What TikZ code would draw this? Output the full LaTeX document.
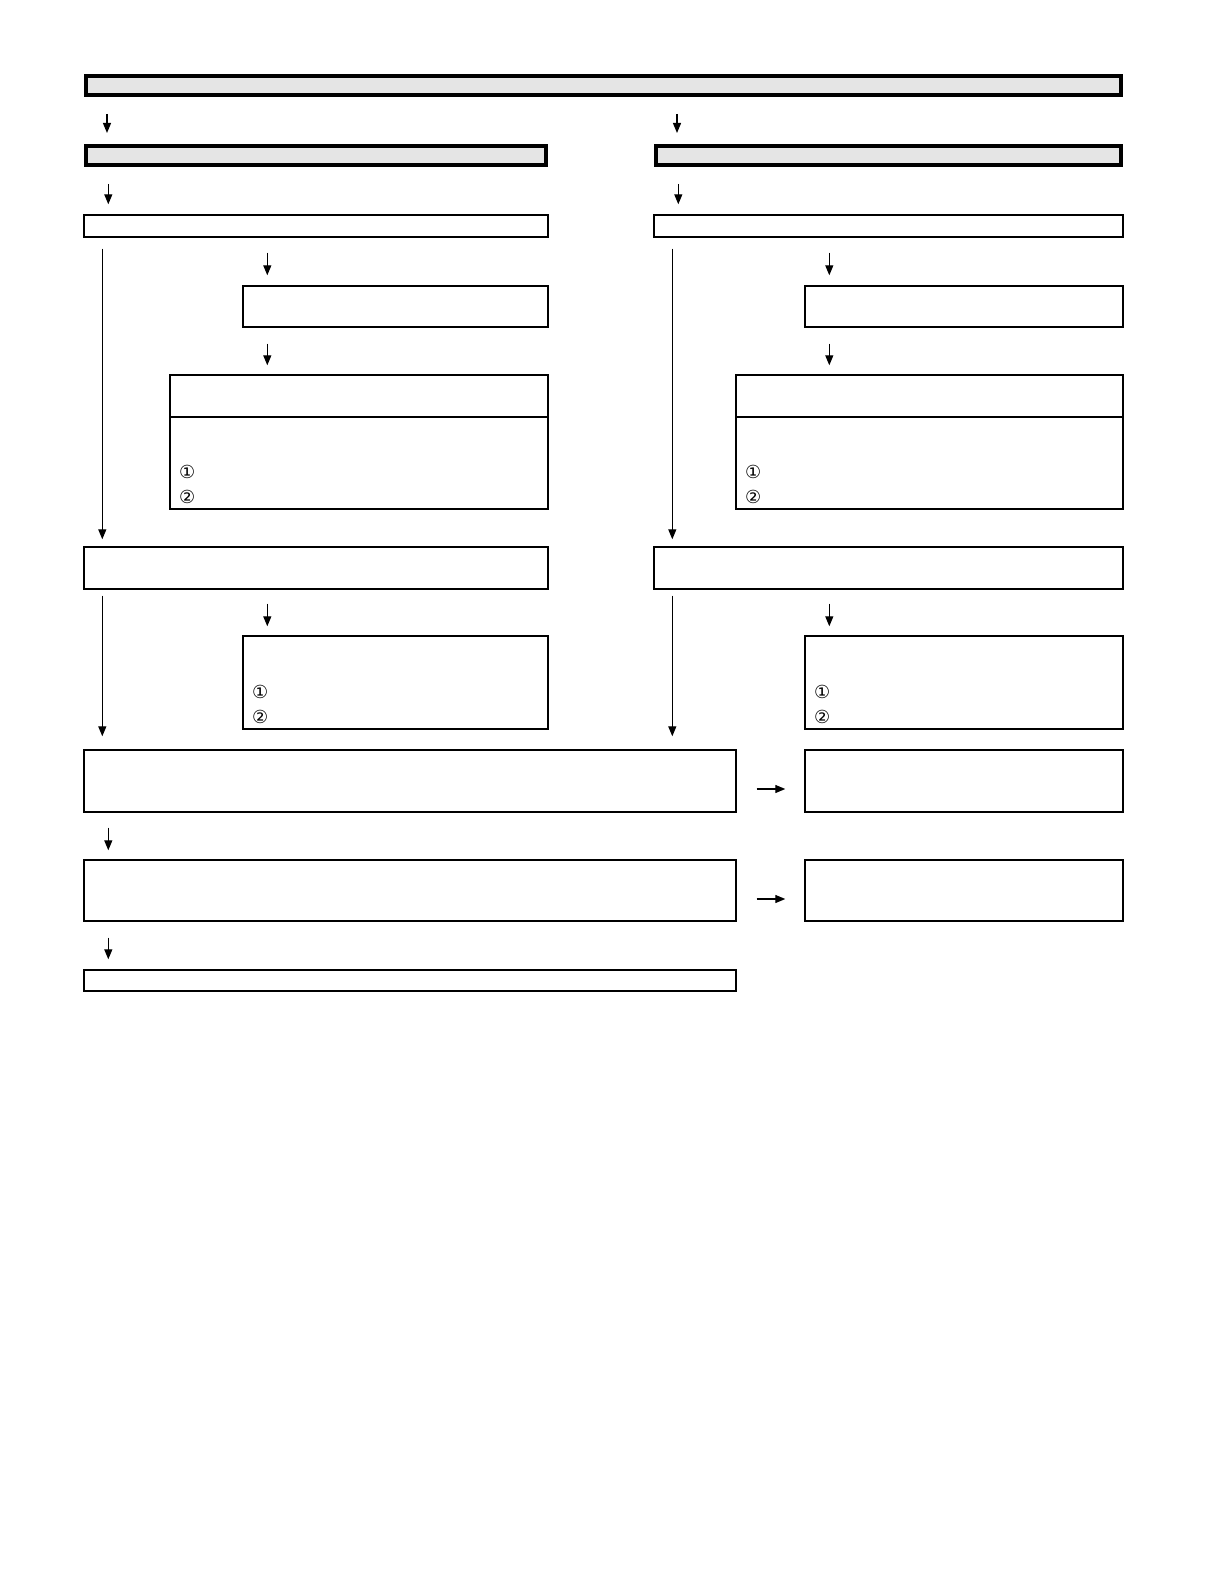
\documentclass[tikz,border=0pt]{standalone}
\usepackage{fontspec}
\newfontfamily\symfont{DejaVu Sans}
\usetikzlibrary{arrows.meta}
\usetikzlibrary{calc}
\usetikzlibrary{fit}
\tikzset{head/.style = {draw, line width = 2pt, fill = gray!20, inner sep = 0}}
\tikzset{box/.style = {draw, line width = 0.7pt, inner sep = 0}}
\tikzset{arr/.style = {line width = 0.6pt, -{Triangle[length = 5pt, width = 4pt]}}}
\tikzset{num/.style = {font = \symfont\fontsize{9}{9}\selectfont, inner sep = 0}}

\begin{document}
\begin{tikzpicture}[x=0.5pt, y=-0.5pt]
          \useasboundingbox (0, 0) rectangle (1220, 1588);

          \node [head, fit = {(86, 76) (1121, 95)}] (top) {};
          \node [head, fit = {(86, 146) (546, 165)}] (lhd) {};
          \node [head, fit = {(656, 146) (1121, 165)}] (rhd) {};

          % left column
          \node [box, fit = {(84, 215) (548, 237)}] (lstart) {};
          \node [box, fit = {(243, 286) (548, 327)}] (lsub) {};
          \node [box, fit = {(170, 375) (548, 417)}] (lchk) {};
          \node [box, fit = {(170, 417) (548, 509)}] (lres) {};
          \node [box, fit = {(84, 547) (548, 589)}] (lmid) {};
          \node [box, fit = {(243, 636) (548, 729)}] (lfix) {};

          % right column
          \node [box, fit = {(654, 215) (1123, 237)}] (rstart) {};
          \node [box, fit = {(805, 286) (1123, 327)}] (rsub) {};
          \node [box, fit = {(736, 375) (1123, 417)}] (rchk) {};
          \node [box, fit = {(736, 417) (1123, 509)}] (rres) {};
          \node [box, fit = {(654, 547) (1123, 589)}] (rmid) {};
          \node [box, fit = {(805, 636) (1123, 729)}] (rfix) {};

          % common part
          \node [box, fit = {(84, 750) (736, 812)}] (joint) {};
          \node [box, fit = {(805, 750) (1123, 812)}] (jside) {};
          \node [box, fit = {(84, 860) (736, 921)}] (final) {};
          \node [box, fit = {(805, 860) (1123, 921)}] (fside) {};
          \node [box, fit = {(84, 970) (736, 991)}] (done) {};

          \node [num] at ($(lres.south west) + (18, -38)$) (lres1) {①};
          \node [num] at ($(lres.south west) + (18, -13)$) (lres2) {②};
          \node [num] at ($(rres.south west) + (18, -38)$) (rres1) {①};
          \node [num] at ($(rres.south west) + (18, -13)$) (rres2) {②};
          \node [num] at ($(lfix.south west) + (18, -38)$) (lfix1) {①};
          \node [num] at ($(lfix.south west) + (18, -13)$) (lfix2) {②};
          \node [num] at ($(rfix.south west) + (18, -38)$) (rfix1) {①};
          \node [num] at ($(rfix.south west) + (18, -13)$) (rfix2) {②};

          \draw [arr] ($(top.south -| lhd.west) + (23, 17)$) -- ($(lhd.north west) + (23, -11)$);
          \draw [arr] ($(top.south -| rhd.west) + (23, 17)$) -- ($(rhd.north west) + (23, -11)$);

          \draw [arr] ($(lhd.south -| lstart.west) + (25, 17)$) -- ($(lstart.north west) + (25, -10)$);
          \draw [arr] ($(rhd.south -| rstart.west) + (25, 17)$) -- ($(rstart.north west) + (25, -10)$);

          \draw [arr] ($(lstart.south -| lsub.west) + (25, 15)$) -- ($(lsub.north west) + (25, -10)$);
          \draw [arr] ($(rstart.south -| rsub.west) + (25, 15)$) -- ($(rsub.north west) + (25, -10)$);

          \draw [arr] ($(lsub.south west) + (25, 16)$) -- ($(lchk.north -| lsub.west) + (25, -9)$);
          \draw [arr] ($(rsub.south west) + (25, 16)$) -- ($(rchk.north -| rsub.west) + (25, -9)$);

          \draw [arr] ($(lstart.south west) + (19, 11)$) -- ($(lmid.north west) + (19, -7)$);
          \draw [arr] ($(rstart.south west) + (19, 11)$) -- ($(rmid.north west) + (19, -7)$);

          \draw [arr] ($(lmid.south -| lfix.west) + (25, 14)$) -- ($(lfix.north west) + (25, -9)$);
          \draw [arr] ($(rmid.south -| rfix.west) + (25, 14)$) -- ($(rfix.north west) + (25, -9)$);

          \draw [arr] ($(lmid.south west) + (19, 6)$) -- ($(joint.north -| lmid.west) + (19, -13)$);
          \draw [arr] ($(rmid.south west) + (19, 6)$) -- ($(joint.north -| rmid.west) + (19, -13)$);

          \draw [arr] ($(joint.east) + (20, 8)$) -- ($(jside.west) + (-19, 8)$);
          \draw [arr] ($(final.east) + (20, 8.5)$) -- ($(fside.west) + (-19, 8.5)$);

          \draw [arr] ($(joint.south west) + (25, 15)$) -- ($(final.north west) + (25, -9)$);
          \draw [arr] ($(final.south west) + (25, 16)$) -- ($(done.north west) + (25, -10)$);
        \end{tikzpicture}
\end{document}
